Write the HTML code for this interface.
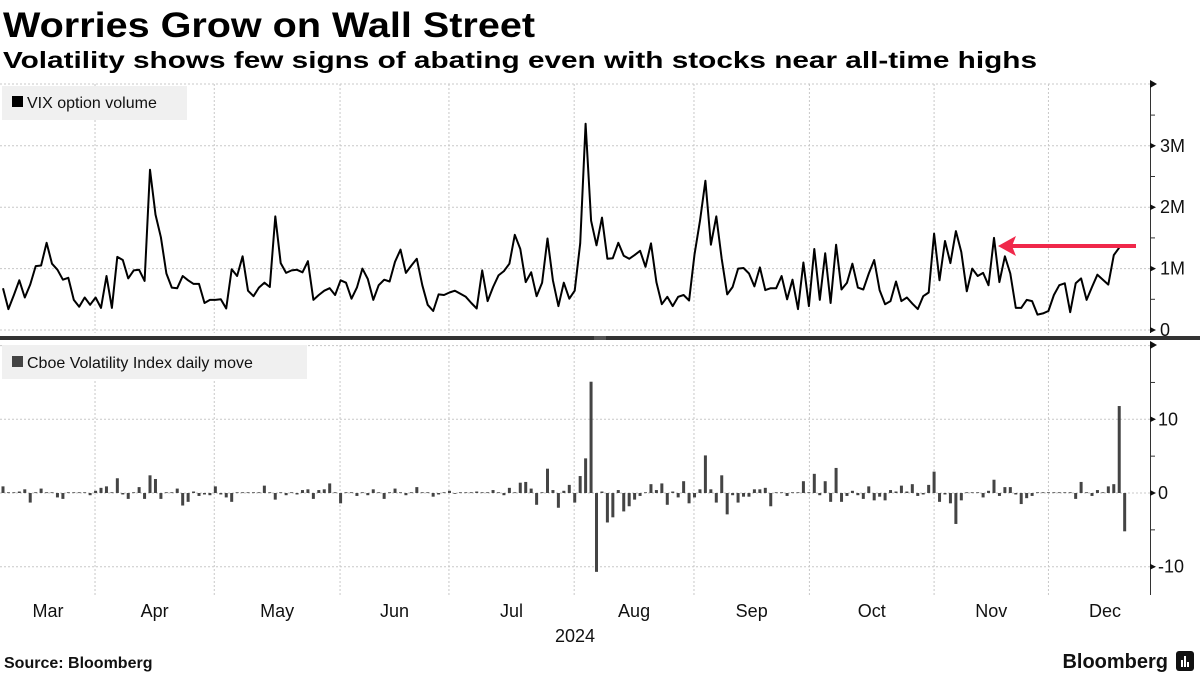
<!DOCTYPE html>
<html><head><meta charset="utf-8"><style>
html,body{margin:0;padding:0;background:#fff;}
svg{display:block;font-family:"Liberation Sans",sans-serif;}
</style></head><body>
<svg id="chart" width="1200" height="675" viewBox="0 0 1200 675">
<text x="3" y="37" font-size="35" font-weight="bold" fill="#000" textLength="532" lengthAdjust="spacingAndGlyphs">Worries Grow on Wall Street</text>
<text x="3" y="68" font-size="23" font-weight="bold" fill="#000" textLength="1034" lengthAdjust="spacingAndGlyphs">Volatility shows few signs of abating even with stocks near all-time highs</text>
<g id="grid"></g>
<g id="marks"></g>
<g id="axes"></g>
<rect x="0" y="336" width="1200" height="4" fill="#333"/>
<line x1="594" y1="337" x2="606" y2="337" stroke="#999" stroke-width="0.7"/>
<line x1="594" y1="339" x2="606" y2="339" stroke="#999" stroke-width="0.7"/>
<rect x="2" y="86" width="185" height="34" fill="#f0f0f0"/>
<rect x="12" y="96" width="11" height="11" fill="#000"/>
<text x="27" y="108" font-size="16" fill="#111">VIX option volume</text>
<rect x="2" y="345" width="305" height="34" fill="#f0f0f0"/>
<rect x="12" y="356" width="11" height="11" fill="#444"/>
<text x="27" y="368" font-size="16" fill="#111">Cboe Volatility Index daily move</text>
<g>
<line x1="1136" y1="246" x2="1006" y2="246" stroke="#f0284a" stroke-width="4"/>
<polygon points="1016,236 998,246 1016,256 1012,246" fill="#f0284a"/>
</g>
<text x="575" y="642" font-size="18" fill="#111" text-anchor="middle">2024</text>
<text x="4" y="668" font-size="16" font-weight="bold" fill="#111">Source: Bloomberg</text>
<text x="1168" y="668" font-size="20" font-weight="bold" fill="#111" text-anchor="end">Bloomberg</text>
<rect x="1176" y="651" width="18" height="20" rx="3" fill="#111"/>
<rect x="1181" y="660" width="2" height="7" fill="#fff"/><rect x="1184" y="656" width="2" height="11" fill="#fff"/><rect x="1187" y="662" width="2" height="5" fill="#fff"/>
</svg>
<script>
const volume = [0.68,0.34,0.57,0.81,0.53,0.74,1.04,1.05,1.42,1.08,0.98,0.82,0.85,0.49,0.38,0.53,0.41,0.53,0.36,0.88,0.36,1.19,1.14,0.84,0.97,0.98,0.80,2.61,1.88,1.51,0.92,0.69,0.68,0.88,0.81,0.75,0.75,0.44,0.49,0.49,0.50,0.35,0.99,0.88,1.20,0.64,0.55,0.69,0.77,0.70,1.85,1.09,0.93,0.97,0.98,0.94,1.12,0.49,0.57,0.64,0.68,0.57,0.81,0.77,0.51,0.69,1.00,0.83,0.49,0.73,0.82,0.79,1.11,1.31,
0.93,1.05,1.16,0.73,0.41,0.31,0.58,0.57,0.61,0.64,0.59,0.54,0.44,0.35,0.97,0.47,0.70,0.89,0.96,1.08,1.55,1.32,0.78,0.94,0.55,0.77,1.49,0.81,0.39,0.77,0.51,0.64,1.41,3.36,1.78,1.38,1.83,1.16,1.17,1.42,1.21,1.16,1.22,1.29,1.03,1.41,0.78,0.42,0.54,0.39,0.54,0.57,0.48,1.23,1.78,2.43,1.39,1.85,1.16,0.58,0.70,1.00,1.01,0.92,0.71,1.02,0.65,0.68,0.68,0.88,0.50,
0.82,0.34,1.10,0.39,1.32,0.49,1.25,0.44,1.39,0.66,0.77,1.08,0.69,0.66,0.92,1.14,0.65,0.42,0.47,0.79,0.47,0.53,0.43,0.34,0.55,0.61,1.57,0.81,1.45,1.09,1.61,1.27,0.63,1.00,0.88,0.93,0.73,1.50,0.78,1.20,0.92,0.36,0.36,0.49,0.47,0.25,0.27,0.31,0.57,0.73,0.76,0.29,0.76,0.84,0.49,0.70,0.90,0.82,0.74,1.22,1.34];
const vixMove = [0.9,0.1,0.1,0.2,0.5,-1.3,0.1,0.6,0.1,0.1,-0.6,-0.8,0.1,0.1,0.1,0.1,-0.3,0.3,0.7,0.9,0.1,2.0,-0.2,-0.8,0.1,0.8,-0.8,2.4,1.9,-0.8,0.1,0.1,0.6,-1.7,-1.2,0.2,-0.4,-0.2,-0.3,0.9,-0.2,-0.6,-1.2,0.1,0.1,0.1,0.1,0.1,1.0,0.1,-0.9,0.1,-0.3,0.1,-0.2,0.4,0.5,-0.8,0.4,0.5,1.3,0.1,-1.4,0.1,0.1,-0.4,0.1,-0.3,0.5,0.1,-0.8,0.1,0.6,0.1,-0.3,0.1,0.8,0.1,0.1,-0.5,-0.2,0.1,0.3,-0.1,0.1,0.1,0.1,0.2,0.1,0.1,0.4,0.1,-0.3,0.7,0.1,1.4,1.5,0.6,-1.6,0.1,3.3,0.4,-2.0,0.3,1.1,-1.3,2.3,4.7,15.1,-10.7,0.2,-4.0,-3.3,0.4,-2.5,-1.8,-0.9,-0.4,0.1,1.2,0.4,1.3,-1.6,0.2,-0.6,1.6,-1.4,-0.6,0.5,5.1,0.5,-1.3,2.4,-2.9,-0.3,-1.3,-0.5,-0.5,0.5,0.5,0.7,-1.8,0.1,0.1,-0.4,0.1,0.1,1.6,0.1,2.6,-0.3,1.6,-1.2,3.4,-1.2,-0.4,0.3,-0.3,-0.8,0.9,-1.0,-0.5,-1.0,0.4,0.2,1.0,0.2,1.2,-0.4,-0.2,1.1,2.9,-1.2,-0.2,-1.4,-4.2,-1.0,0.1,0.1,0.1,-0.6,0.3,1.8,-0.4,0.8,0.8,-0.2,-1.5,-0.7,-0.4,0.1,0.1,0.1,0.1,0.1,0.1,0.1,-0.8,1.5,0.1,-0.4,0.4,0.1,0.9,1.2,11.8,-5.2];
const monthLabels = ["Mar","Apr","May","Jun","Jul","Aug","Sep","Oct","Nov","Dec"];
const monthStarts = [-3.8,16.9,38.8,61.9,81.9,104.9,126.9,148.1,171.0,192.0,212.8];
const volTicks = [0,1,2,3];
const volTickLabels = ["0","1M","2M","3M"];
const moveTicks = [-10,0,10];
const moveTickLabels = ["-10","0","10"];

const NS="http://www.w3.org/2000/svg";
function mk(tag,attrs,parent){const e=document.createElementNS(NS,tag);for(const k in attrs)e.setAttribute(k,attrs[k]);parent.appendChild(e);return e;}
const xS = i => 3 + i*5.445;
const yTop = v => 330 - v*61.4;
const yBot = v => 493 - v*7.37;
const grid=document.getElementById('grid'), marks=document.getElementById('marks'), axes=document.getElementById('axes');
const gs={stroke:"#c8c8c8","stroke-width":1,"stroke-dasharray":"2,2"};

for(let v=0;v<=3;v+=1){const g=mk('line',Object.assign({x1:0,x2:1150,y1:yTop(v),y2:yTop(v)},gs),grid);

}
{const g=mk('line',Object.assign({x1:0,x2:1150,y1:84,y2:84},gs),grid);

}
[20,10,0,-10].forEach(v=>{const g=mk('line',Object.assign({x1:0,x2:1150,y1:yBot(v),y2:yBot(v)},gs),grid);

});
for(let m=1;m<monthStarts.length-1;m++){const x=xS(monthStarts[m]);
const a=mk('line',Object.assign({x1:x,x2:x,y1:84,y2:333},gs),grid);


const b=mk('line',Object.assign({x1:x,x2:x,y1:345,y2:595},gs),grid);

}
monthLabels.forEach((lab,m)=>{const x=Math.max(48,Math.min(1108,xS((monthStarts[m]+monthStarts[m+1])/2)));
const t=mk('text',{x:x,y:617,"font-size":18,fill:"#111","text-anchor":"middle"},axes);t.textContent=lab;

});

const pts=volume.map((v,i)=>xS(i).toFixed(1)+","+yTop(v).toFixed(1)).join(" ");
const pl=mk('polyline',{points:pts,fill:"none",stroke:"#000","stroke-width":2,"stroke-linejoin":"round"},marks);



vixMove.forEach((v,i)=>{const y0=yBot(0),y1=yBot(v);
const r=mk('rect',{x:xS(i)-1.5,y:Math.min(y0,y1),width:3,height:Math.max(0.8,Math.abs(y1-y0)),fill:"#444"},marks);

});

const ax1=mk('line',{x1:1150.5,x2:1150.5,y1:84,y2:333,stroke:"#333","stroke-width":1},axes);


for(let k=0;k<=7;k++){const y=yTop(k*0.5);mk('line',{x1:1150,x2:1155,y1:y,y2:y,stroke:"#333","stroke-width":1},axes);}
mk('path',{d:"M1150,80 L1157,84 L1150,88Z",fill:"#111"},axes);
volTicks.forEach((v,i)=>{const y=yTop(v);mk('path',{d:`M1150,${y-3} L1156,${y} L1150,${y+3}Z`,fill:"#111"},axes);
const t=mk('text',{x:1160,y:y+6,"font-size":18,fill:"#111"},axes);t.textContent=volTickLabels[i];

});
const ax2=mk('line',{x1:1150.5,x2:1150.5,y1:345,y2:595,stroke:"#333","stroke-width":1},axes);


[20,15,10,5,0,-5,-10].forEach(v=>{const y=yBot(v);mk('line',{x1:1150,x2:1155,y1:y,y2:y,stroke:"#333","stroke-width":1},axes);});
mk('path',{d:"M1150,341 L1157,345 L1150,349Z",fill:"#111"},axes);
moveTicks.forEach((v,i)=>{const y=yBot(v);mk('path',{d:`M1150,${y-3} L1156,${y} L1150,${y+3}Z`,fill:"#111"},axes);
const t=mk('text',{x:1158,y:y+6,"font-size":18,fill:"#111"},axes);t.textContent=moveTickLabels[i];

});
</script>
</body></html>
